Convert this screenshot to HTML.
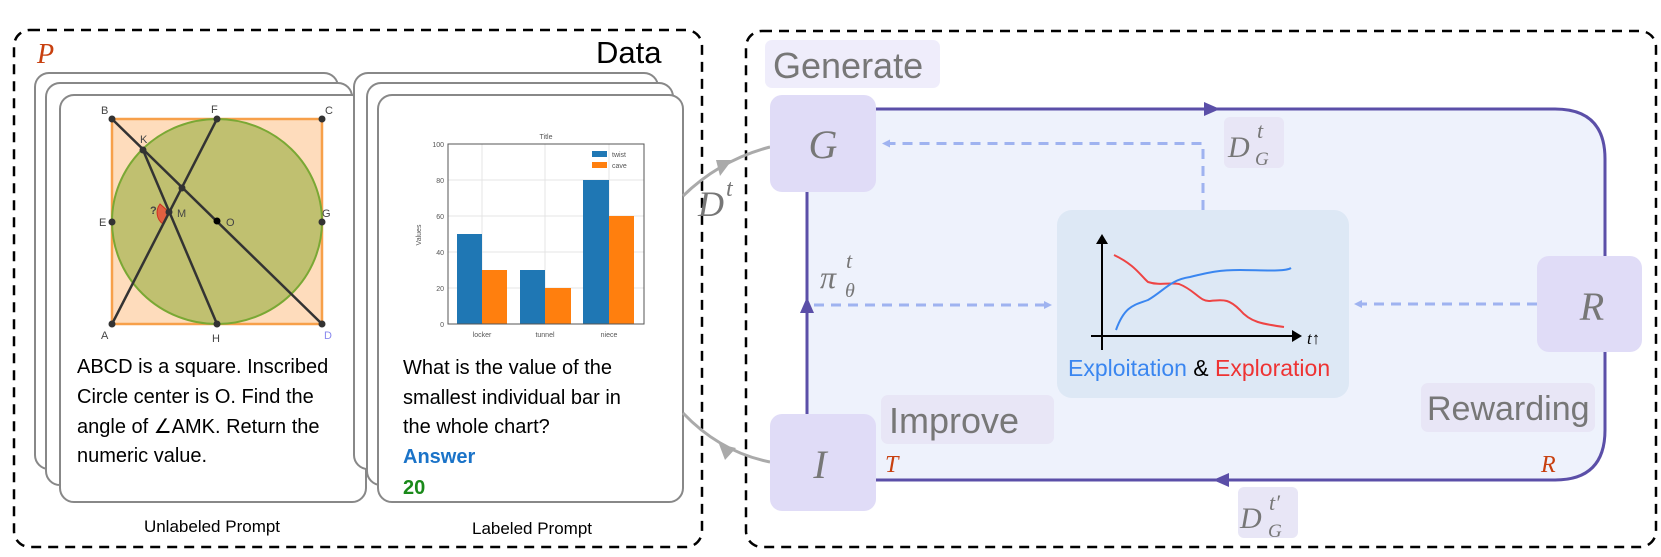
<!DOCTYPE html>
<html><head><meta charset="utf-8"><style>
html,body{margin:0;padding:0;background:#fff;}
svg{display:block;}
text{font-family:"Liberation Sans Narrow","Liberation Sans",sans-serif;}
.m{font-family:"Liberation Serif","DejaVu Serif",serif;font-style:italic;}
</style></head><body>
<svg width="1661" height="557" viewBox="0 0 1661 557" xmlns="http://www.w3.org/2000/svg">
<defs>
<marker id="ab" markerWidth="8" markerHeight="8" refX="6" refY="4" orient="auto" markerUnits="userSpaceOnUse"><path d="M0,0 L8,4 L0,8z" fill="#9fb3f0"/></marker>
</defs>
<rect x="14" y="30" width="688" height="517" rx="16" fill="none" stroke="#000" stroke-width="2.5" stroke-dasharray="10,7"/>
<rect x="746" y="31" width="910" height="516" rx="16" fill="none" stroke="#000" stroke-width="2.5" stroke-dasharray="10,7"/>
<text x="37" y="63" class="m" font-size="28" fill="#c8400f">P</text>
<text x="596" y="63" font-size="31" fill="#000">Data</text>

<rect x="35" y="73" width="303" height="396" rx="14" fill="#fff" stroke="#888" stroke-width="2"/>
<rect x="46" y="83" width="306" height="402" rx="14" fill="#fff" stroke="#888" stroke-width="2"/>
<rect x="60" y="95" width="306" height="407" rx="14" fill="#fff" stroke="#888" stroke-width="2"/>
<rect x="354" y="73" width="304" height="396" rx="14" fill="#fff" stroke="#888" stroke-width="2"/>
<rect x="367" y="83" width="306" height="402" rx="14" fill="#fff" stroke="#888" stroke-width="2"/>
<rect x="378" y="95" width="305" height="407" rx="14" fill="#fff" stroke="#888" stroke-width="2"/>

<rect x="112" y="119" width="210" height="205" fill="#fedcbc" stroke="#f7a04a" stroke-width="2.5"/>
<ellipse cx="217" cy="221.5" rx="105" ry="102.5" fill="#c0c070" stroke="#7aa834" stroke-width="2"/>
<path d="M160,204 A14,14 0 0 0 163,224 L169,212z" fill="#e06040" stroke="#d03020" stroke-width="1"/>
<g stroke="#333" stroke-width="2.5">
<line x1="112" y1="119" x2="322" y2="324"/>
<line x1="217" y1="119" x2="112" y2="324"/>
<line x1="143" y1="150" x2="217" y2="324"/>
</g>
<g fill="#333">
<circle cx="112" cy="119" r="3.5"/><circle cx="322" cy="119" r="3.5"/><circle cx="112" cy="324" r="3.5"/><circle cx="322" cy="324" r="3.5"/>
<circle cx="217" cy="119" r="3.5"/><circle cx="217" cy="324" r="3.5"/><circle cx="112" cy="222" r="3.5"/><circle cx="322" cy="222" r="3.5"/>
<circle cx="143" cy="150" r="3.5"/><circle cx="182" cy="188" r="3.5"/><circle cx="169" cy="212" r="3.5"/><circle cx="217" cy="221" r="3.5" fill="#000"/>
</g>
<g font-size="11" fill="#444">
<text x="101" y="114">B</text><text x="211" y="113">F</text><text x="325" y="114">C</text>
<text x="101" y="339">A</text><text x="212" y="342">H</text><text x="324" y="339" fill="#8888ee">D</text>
<text x="99" y="226">E</text><text x="322" y="217">G</text><text x="140" y="143">K</text>
<text x="177" y="217">M</text><text x="226" y="226">O</text><text x="150" y="214" font-weight="bold">?</text>
</g>
<g font-size="20" fill="#000">
<text x="77" y="373">ABCD is a square. Inscribed</text>
<text x="77" y="403">Circle center is O. Find the</text>
<text x="77" y="433">angle of ∠AMK. Return the</text>
<text x="77" y="462">numeric value.</text>
</g>

<g stroke="#e4e4e4" stroke-width="1">
<line x1="448" y1="180" x2="644" y2="180"/><line x1="448" y1="216" x2="644" y2="216"/><line x1="448" y1="252" x2="644" y2="252"/><line x1="448" y1="288" x2="644" y2="288"/>
<line x1="482" y1="144" x2="482" y2="324"/><line x1="545" y1="144" x2="545" y2="324"/><line x1="609" y1="144" x2="609" y2="324"/>
</g>
<rect x="457" y="234" width="25" height="90" fill="#1f77b4"/>
<rect x="482" y="270" width="25" height="54" fill="#ff7f0e"/>
<rect x="520" y="270" width="25" height="54" fill="#1f77b4"/>
<rect x="545" y="288" width="26" height="36" fill="#ff7f0e"/>
<rect x="583" y="180" width="26" height="144" fill="#1f77b4"/>
<rect x="609" y="216" width="25" height="108" fill="#ff7f0e"/>
<rect x="448" y="144" width="196" height="180" fill="none" stroke="#555" stroke-width="1"/>
<rect x="592" y="151" width="15" height="6" fill="#1f77b4"/><rect x="592" y="162" width="15" height="6" fill="#ff7f0e"/>
<g font-size="7" fill="#555">
<text x="612" y="157">twist</text><text x="612" y="168">cave</text>
<text x="546" y="139" text-anchor="middle">Title</text>
<text x="444" y="147" text-anchor="end">100</text><text x="444" y="183" text-anchor="end">80</text><text x="444" y="219" text-anchor="end">60</text><text x="444" y="255" text-anchor="end">40</text><text x="444" y="291" text-anchor="end">20</text><text x="444" y="327" text-anchor="end">0</text>
<text x="482" y="337" text-anchor="middle">locker</text><text x="545" y="337" text-anchor="middle">tunnel</text><text x="609" y="337" text-anchor="middle">niece</text>
<text transform="translate(421,235) rotate(-90)" text-anchor="middle">Values</text>
</g>
<g font-size="20" fill="#000">
<text x="403" y="374">What is the value of the</text>
<text x="403" y="404">smallest individual bar in</text>
<text x="403" y="433">the whole chart?</text>
</g>
<text x="403" y="463" font-size="20" font-weight="bold" fill="#1a73c8">Answer</text>
<text x="403" y="494" font-size="20" font-weight="bold" fill="#1a8a1a">20</text>
<text x="212" y="532" font-size="17" text-anchor="middle" fill="#000">Unlabeled Prompt</text>
<text x="532" y="534" font-size="17" text-anchor="middle" fill="#000">Labeled Prompt</text>

<path d="M683,196 Q720,160 770,147" fill="none" stroke="#aaa" stroke-width="3"/>
<path d="M716,160 L732,160 L720,176z" fill="#aaa"/>
<path d="M683,413 Q720,452 770,462" fill="none" stroke="#aaa" stroke-width="3"/>
<path d="M719,444 L736,448 L725,460z" fill="#aaa"/>
<text x="698" y="216" class="m" font-size="36" fill="#777">D</text>
<text x="726" y="196" class="m" font-size="24" fill="#777">t</text>

<path d="M807,109 L1555,109 Q1605,109 1605,159 L1605,430 Q1605,480 1555,480 L807,480 Z" fill="#eef2fc" stroke="#5b4fa8" stroke-width="3"/>
<path d="M1204,102 L1220,109 L1204,116z" fill="#5b4fa8"/>
<path d="M1229,473 L1213,480 L1229,487z" fill="#5b4fa8"/>
<path d="M800,313 L807,297 L814,313z" fill="#5b4fa8"/>

<rect x="765" y="40" width="175" height="48" rx="7" fill="#efedfb"/>
<text x="773" y="78" font-size="36" fill="#777">Generate</text>
<rect x="770" y="95" width="106" height="97" rx="12" fill="#e0dcf7"/>
<text x="823" y="158" class="m" font-size="40" fill="#777" text-anchor="middle">G</text>
<rect x="770" y="414" width="106" height="97" rx="12" fill="#e0dcf7"/>
<text x="820" y="478" class="m" font-size="40" fill="#777" text-anchor="middle">I</text>
<rect x="1537" y="256" width="105" height="96" rx="12" fill="#e0dcf7"/>
<text x="1592" y="320" class="m" font-size="40" fill="#777" text-anchor="middle">R</text>
<rect x="881" y="395" width="173" height="49" rx="7" fill="#e8e6f6"/>
<text x="889" y="433" font-size="36" fill="#777">Improve</text>
<rect x="1421" y="383" width="174" height="49" rx="7" fill="#e8e6f6"/>
<text x="1427" y="420" font-size="34" fill="#777">Rewarding</text>
<text x="885" y="472" class="m" font-size="24" fill="#c8400f">T</text>
<text x="1541" y="472" class="m" font-size="24" fill="#c8400f">R</text>
<rect x="1224" y="117" width="60" height="51" rx="6" fill="#e8e6f6"/>
<text x="1228" y="157" class="m" font-size="30" fill="#777">D</text>
<text x="1257" y="138" class="m" font-size="22" fill="#777">t</text>
<text x="1255" y="165" class="m" font-size="19" fill="#777">G</text>
<rect x="1238" y="487" width="60" height="51" rx="6" fill="#e8e6f6"/>
<text x="1240" y="528" class="m" font-size="30" fill="#777">D</text>
<text x="1269" y="510" class="m" font-size="22" fill="#777">t′</text>
<text x="1268" y="537" class="m" font-size="19" fill="#777">G</text>
<text x="820" y="288" class="m" font-size="32" fill="#777">π</text>
<text x="846" y="268" class="m" font-size="22" fill="#777">t</text>
<text x="845" y="297" class="m" font-size="20" fill="#777">θ</text>

<path d="M1203,210 L1203,143.5 L884,143.5" fill="none" stroke="#9fb3f0" stroke-width="3" stroke-dasharray="10,7" marker-end="url(#ab)"/>
<path d="M814,305 L1050,305" fill="none" stroke="#9fb3f0" stroke-width="3" stroke-dasharray="10,7" marker-end="url(#ab)"/>
<path d="M1537,304 L1356,304" fill="none" stroke="#9fb3f0" stroke-width="3" stroke-dasharray="10,7" marker-end="url(#ab)"/>

<rect x="1057" y="210" width="292" height="188" rx="15" fill="#dde8f5"/>
<line x1="1102" y1="350" x2="1102" y2="242" stroke="#000" stroke-width="2"/>
<path d="M1096,244 L1102,234 L1108,244z" fill="#000"/>
<line x1="1091" y1="336" x2="1294" y2="336" stroke="#000" stroke-width="2"/>
<path d="M1292,330 L1302,336 L1292,342z" fill="#000"/>
<text x="1307" y="344" class="m" font-size="17" fill="#000">t↑</text>
<path d="M1114,255 C1135,265 1140,275 1148,282 C1160,286 1170,282 1179,284 C1195,290 1200,302 1210,301 C1225,299 1230,300 1240,310 C1250,322 1262,324 1284,327" fill="none" stroke="#ee4444" stroke-width="2"/>
<path d="M1116,330 C1125,305 1135,305 1148,300 C1165,290 1170,280 1190,277 C1210,272 1220,270 1240,270 C1260,270 1285,272 1291,268" fill="none" stroke="#3a86f0" stroke-width="2"/>
<text x="1068" y="376" font-size="23"><tspan fill="#3a86f0">Exploitation</tspan><tspan fill="#000"> &amp; </tspan><tspan fill="#ee3333">Exploration</tspan></text>
</svg>
</body></html>
